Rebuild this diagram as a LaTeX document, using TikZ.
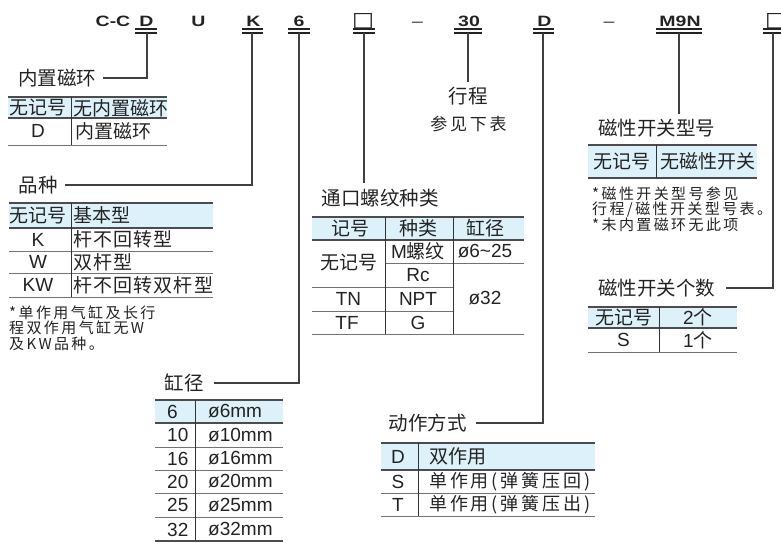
\documentclass[tikz,border=0pt]{standalone}
\usepackage{fontspec}
\setmainfont{Liberation Sans}
\newfontfamily\codefont[FakeStretch=1.3]{Liberation Sans}
\newfontfamily\cjk{Noto Sans CJK SC}
\newfontfamily\cjkm[LetterSpace=6]{Noto Sans CJK SC}
\newfontfamily\cjkn[LetterSpace=16]{Noto Sans CJK SC}
\newfontfamily\symfont{DejaVu Sans}
\definecolor{hdblue}{RGB}{221,241,250}
\definecolor{ink}{RGB}{35,35,35}

\begin{document}
\begin{tikzpicture}[x=1pt, y=-1pt,
		code/.style={font=\codefont\bfseries\fontsize{15}{17}\selectfont, inner sep=0pt, anchor=base, text=ink},
		lbl/.style={font=\cjk\fontsize{19.5}{21}\selectfont, inner sep=0pt, text=ink},
		cell/.style={font=\fontsize{19}{21}\selectfont, inner sep=0pt, text=ink},
		ccell/.style={font=\cjk\fontsize{19}{21}\selectfont, inner sep=0pt, text=ink},
		note/.style={font=\cjkn\fontsize{15}{15.5}\selectfont, inner sep=0pt, align=left, anchor=west, text=ink},
		dbl/.style={line width=1.4pt, draw=ink},
		lead/.style={line width=1.1pt, draw=black!75},
		topln/.style={line width=1.8pt, draw=black!70},
		hdln/.style={line width=1.4pt, draw=black!70},
		rowln/.style={line width=1pt, draw=black!55},
		colln/.style={line width=1pt, draw=black!80},
		hdfill/.style={fill=hdblue}]
				\useasboundingbox (0,0) rectangle (781,542);
				
				% Code
				\node[code] (cc) at (113,26) {C-C};
				\node[code] (cD) at (146.5,26) {D};
				\node[code] (cU) at (198.5,26) {U};
				\node[code] (cK) at (253.5,26) {K};
				\node[code] (c6) at (299,26) {6};
				\node[code] (cP) at (363,26) {\resizebox{22pt}{13pt}{\symfont □}};
				\node[code, font=\codefont\fontsize{15}{17}\selectfont] (dash1) at (417.5,26) {–};
				\node[code] (c30) at (469,26) {30};
				\node[code] (cA) at (544.5,26) {D};
				\node[code, font=\codefont\fontsize{15}{17}\selectfont] (dash2) at (609,26) {–};
				\node[code] (cS) at (680,26) {M9N};
				\node[code] (cN) at (776,26) {\resizebox{22pt}{13pt}{\symfont □}};
				
				% Double underlines
				\draw[dbl] (135,29) -- (157,29) (135,33) -- (157,33);
				\draw[dbl] (242,29) -- (263,29) (242,33) -- (263,33);
				\draw[dbl] (288,29) -- (310,29) (288,33) -- (310,33);
				\draw[dbl] (353,29) -- (375,29) (353,33) -- (375,33);
				\draw[dbl] (454,29) -- (482,29) (454,33) -- (482,33);
				\draw[dbl] (533,29) -- (554,29) (533,33) -- (554,33);
				\draw[dbl] (656,29) -- (702,29) (656,33) -- (702,33);
				\draw[dbl] (763,29) -- (783,29) (763,33) -- (783,33);
				
				\coordinate (uD) at (147,33);
				\coordinate (uK) at (252,33);
				\coordinate (u6) at (299,33);
				\coordinate (uP) at (364,33);
				\coordinate (u30) at (468,33);
				\coordinate (uA) at (543,33);
				\coordinate (uS) at (679,33);
				\coordinate (uN) at (773,33);
				
				% Labels
				\node[lbl] (ring) at (57,78) {内置磁环};
				\node[lbl] (kind) at (38,185) {品种};
				\node[lbl] (bore) at (184,383) {缸径};
				\node[lbl] (port) at (380,198) {通口螺纹种类};
				\node[lbl] (stroke) at (468,96) {行程};
				\node[lbl, font=\cjkn\fontsize{17}{19}\selectfont] (seeTbl) at (468.5,124) {参见下表};
				\node[lbl] (act) at (427.5,423) {动作方式};
				\node[lbl] (swt) at (656.5,128) {磁性开关型号};
				\node[lbl] (num) at (656.5,288) {磁性开关个数};
				
				% Leader lines
				\draw[lead, shorten >=7pt] (uD) |- (ring.east);
				\draw[lead, shorten >=7pt] (uK) |- (kind.east);
				\draw[lead, shorten >=10pt] (u6) |- (bore.east);
				\draw[lead, shorten >=6pt] (uP) -- (uP |- port.north);
				\draw[lead, shorten >=5pt] (u30) -- (u30 |- stroke.north);
				\draw[lead, shorten >=9pt] (uA) |- (act.east);
				\draw[lead, shorten >=5pt] (uS) -- (uS |- swt.north);
				\draw[lead, shorten >=11pt] (uN) |- (num.east);
				
				% Table: built-in magnet
				\fill[hdfill] (8,97) rectangle (167,118);
				\draw[topln] (8,97) -- (167,97);
				\draw[hdln] (8,118) -- (167,118);
				\draw[rowln] (8,145) -- (167,145);
				\draw[colln] (71,97) -- (71,145);
				\node[ccell] (ringNo) at (38,108) {无记号};
				\node[ccell, anchor=west] (ringNoTx) at (73,108) {无内置磁环};
				\node[cell] (ringD) at (38,131) {D};
				\node[ccell, anchor=west] (ringDTx) at (75,131) {内置磁环};
				
				% Table: kind
				\fill[hdfill] (9,203) rectangle (213,228);
				\draw[topln] (9,203) -- (213,203);
				\draw[hdln] (9,228) -- (213,228);
				\draw[rowln] (9,251) -- (213,251);
				\draw[rowln] (9,273) -- (213,273);
				\draw[rowln] (9,297) -- (213,297);
				\draw[colln] (71,203) -- (71,297);
				\node[ccell] (kindNo) at (38,215.5) {无记号};
				\node[ccell, anchor=west] (kindNoTx) at (73,215.5) {基本型};
				\node[cell] (kindK) at (38,239.5) {K};
				\node[ccell, anchor=west, font=\cjkm\fontsize{19}{21}\selectfont] (kindKTx) at (73,239.5) {杆不回转型};
				\node[cell] (kindW) at (38,262) {W};
				\node[ccell, anchor=west, font=\cjkm\fontsize{19}{21}\selectfont] (kindWTx) at (73,262) {双杆型};
				\node[cell] (kindKW) at (38,285) {KW};
				\node[ccell, anchor=west, font=\cjkm\fontsize{19}{21}\selectfont] (kindKWTx) at (73,285) {杆不回转双杆型};
				\node[note] (kindNote) at (9,328) {*单作用气缸及长行\\程双作用气缸无W\\及KW品种。};
				
				% Table: port thread
				\fill[hdfill] (312,217) rectangle (524,240);
				\draw[topln] (312,217) -- (524,217);
				\draw[hdln] (312,240) -- (524,240);
				\draw[rowln] (385,263) -- (524,263);
				\draw[rowln] (312,287) -- (453,287);
				\draw[rowln] (312,311) -- (453,311);
				\draw[rowln] (312,334) -- (524,334);
				\draw[colln] (385,217) -- (385,334);
				\draw[colln] (453,217) -- (453,334);
				\node[ccell] (portH1) at (350,228.5) {记号};
				\node[ccell] (portH2) at (418,228.5) {种类};
				\node[ccell] (portH3) at (485,228.5) {缸径};
				\node[ccell] (portNo) at (348.5,263) {无记号};
				\node[cell] (portM) at (418,251.5) {M{\cjk 螺纹}};
				\node[cell] (portMd) at (485,251.5) {ø6\textasciitilde25};
				\node[cell] (portRc) at (418,275) {Rc};
				\node[cell] (portTN) at (348.5,299) {TN};
				\node[cell] (portNPT) at (418,299) {NPT};
				\node[cell] (portTF) at (347,322.5) {TF};
				\node[cell] (portG) at (418,322.5) {G};
				\node[cell] (portBd) at (485,298.5) {ø32};
				
				% Table: switch type
				\fill[hdfill] (588,145) rectangle (757,178);
				\draw[topln] (588,145) -- (757,145);
				\draw[hdln] (588,178) -- (757,178);
				\draw[colln] (656,145) -- (656,178);
				\node[ccell] (swtNo) at (622,161.5) {无记号};
				\node[ccell] (swtNoTx) at (707.5,161.5) {无磁性开关};
				\node[note] (swtNote) at (592,209) {*磁性开关型号参见\\行程/磁性开关型号表。\\*未内置磁环无此项};
				
				% Table: switch count
				\fill[hdfill] (588,307) rectangle (737,328);
				\draw[topln] (588,307) -- (737,307);
				\draw[hdln] (588,328) -- (737,328);
				\draw[rowln] (588,352) -- (737,352);
				\draw[colln] (659,307) -- (659,352);
				\node[ccell] (numNo) at (623.5,317.5) {无记号};
				\node[cell] (numTwo) at (698,317.5) {2{\cjk 个}};
				\node[cell] (numS) at (623.5,340) {S};
				\node[cell] (numOne) at (698,340) {1{\cjk 个}};
				
				% Table: bore
				\fill[hdfill] (155,400) rectangle (283,423);
				\draw[topln] (155,400) -- (283,400);
				\draw[hdln] (155,423) -- (283,423);
				\draw[rowln] (155,447) -- (283,447);
				\draw[rowln] (155,470) -- (283,470);
				\draw[rowln] (155,493) -- (283,493);
				\draw[rowln] (155,517) -- (283,517);
				\draw[hdln] (155,541) -- (283,541);
				\draw[colln] (195,400) -- (195,541);
				\node[cell, anchor=west] (bore6) at (167,411.5) {6};
				\node[cell, anchor=west] (boreD6) at (208,411.5) {ø6mm};
				\node[cell, anchor=west] (bore10) at (167,435) {10};
				\node[cell, anchor=west] (boreD10) at (208,435) {ø10mm};
				\node[cell, anchor=west] (bore16) at (167,458.5) {16};
				\node[cell, anchor=west] (boreD16) at (208,458.5) {ø16mm};
				\node[cell, anchor=west] (bore20) at (167,481.5) {20};
				\node[cell, anchor=west] (boreD20) at (208,481.5) {ø20mm};
				\node[cell, anchor=west] (bore25) at (167,505) {25};
				\node[cell, anchor=west] (boreD25) at (208,505) {ø25mm};
				\node[cell, anchor=west] (bore32) at (167,529.5) {32};
				\node[cell, anchor=west] (boreD32) at (208,529.5) {ø32mm};
				
				% Table: action
				\fill[hdfill] (381,443) rectangle (595,470);
				\draw[topln] (381,443) -- (595,443);
				\draw[hdln] (381,470) -- (595,470);
				\draw[rowln] (381,493) -- (595,493);
				\draw[rowln] (381,516) -- (595,516);
				\draw[colln] (418,443) -- (418,516);
				\node[cell] (actD) at (398,456.5) {D};
				\node[ccell, anchor=west] (actDTx) at (429,456.5) {双作用};
				\node[cell] (actS) at (398,481.5) {S};
				\node[ccell, anchor=west, font=\cjkn\fontsize{18}{20}\selectfont] (actSTx) at (429,481.5) {单作用(弹簧压回)};
				\node[cell] (actT) at (398,504.5) {T};
				\node[ccell, anchor=west, font=\cjkn\fontsize{18}{20}\selectfont] (actTTx) at (429,504.5) {单作用(弹簧压出)};
			\end{tikzpicture}
\end{document}
